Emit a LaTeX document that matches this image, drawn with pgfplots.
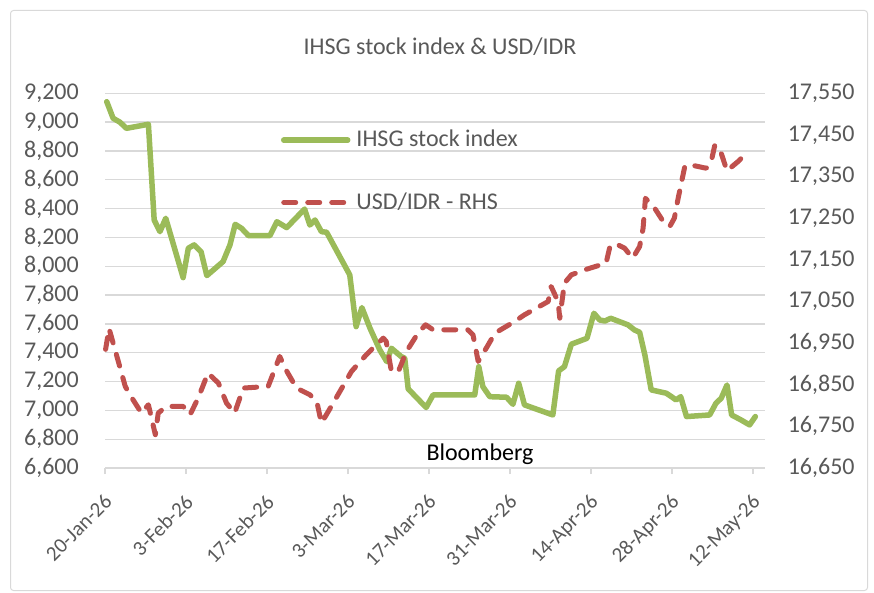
\documentclass[border=0pt]{standalone}
\usepackage{pgfplots}
\pgfplotsset{compat=1.18}
\usepackage{fontspec}
\setmainfont{Carlito}
\definecolor{ihsg}{HTML}{9BBB59}
\definecolor{idr}{HTML}{C0504D}
\definecolor{gridc}{HTML}{D9D9D9}
\definecolor{txt}{HTML}{595959}
\begin{document}
\fontsize{24}{29}\selectfont
\begin{tikzpicture}[x=1pt,y=1pt]
\path[use as bounding box] (0,0) rectangle (874,592);
\draw[gridc, line width=1pt, rounded corners=3pt] (10.5,1.5) rectangle (867.5,581.5);
\pgfplotsset{
  every axis/.append style={
    scale only axis, width=659.6pt, height=374.7pt, at={(105pt,124pt)}, anchor=south west,
    xmin=0, xmax=114, clip=false,
    scaled y ticks=false,
    /pgf/number format/assume math mode=true,
    /pgf/number format/fixed,
    /pgf/number format/precision=0,
    /pgf/number format/1000 sep={,},
    font=\fontsize{24}{29}\selectfont,
    yticklabel style={text=txt, font=\fontsize{24}{29}\selectfont},
  }
}
\begin{axis}[
  axis x line*=bottom, axis y line*=left,
  y axis line style={draw=none},
  x axis line style={draw=gridc, line width=1.3pt},
  ymin=6600, ymax=9200, ytick={6600,6800,7000,7200,7400,7600,7800,8000,8200,8400,8600,8800,9000,9200},
  ytick style={draw=none},
  xtick={0,14,28,42,56,70,84,98,112},
  xticklabels={20-Jan-26,3-Feb-26,17-Feb-26,3-Mar-26,17-Mar-26,31-Mar-26,14-Apr-26,28-Apr-26,12-May-26},
  xtick style={draw=gridc, line width=1.3pt},
  tick align=outside, major tick length=6pt,
  xticklabel style={text=txt, font=\fontsize{21}{25}\selectfont, xshift=-2pt, yshift=-19pt, rotate=45, anchor=north east, inner sep=0pt},
  yticklabel style={xshift=-12pt},
  ymajorgrids, grid style={draw=gridc, line width=1.3pt},
]
\addplot[ihsg, line width=5.5pt, line join=round, line cap=round] coordinates {
(0.3,9142) (1.4,9027) (2.6,8999) (3.7,8957) (7.5,8985) (8.5,8321) (9.5,8240) (10.5,8333)
(13.5,7921) (14.4,8125) (15.4,8148) (16.6,8101) (17.6,7935) (20.4,8032) (21.6,8148) (22.5,8291)
(23.6,8263) (24.8,8212) (28.5,8212) (29.7,8309) (31.4,8268) (34.5,8397) (35.4,8286) (36.3,8321)
(37.4,8240) (38.3,8236) (42.3,7940) (43.4,7581) (44.4,7713) (45.8,7570) (47.5,7419) (48.7,7338)
(49.5,7431) (51.2,7373) (51.8,7362) (52.4,7149) (55.5,7020) (56.7,7107) (63.9,7107) (64.6,7303)
(65.3,7165) (66.5,7095) (69.4,7091) (70.5,7042) (71.5,7188) (72.5,7038) (77.4,6968) (78.4,7274)
(79.4,7303) (80.6,7459) (83.3,7500) (84.5,7674) (85.5,7627) (86.4,7620) (87.4,7639) (90.4,7593)
(91.5,7558) (92.4,7542) (93.3,7385) (94.4,7142) (97.0,7119) (97.9,7095) (98.7,7072) (99.5,7095)
(100.5,6957) (104.5,6968) (105.6,7050) (106.5,7084) (107.5,7176) (108.3,6968) (109.9,6934)
(111.4,6899) (112.4,6957)
};
\end{axis}
\begin{axis}[
  axis x line=none, axis y line*=right,
  y axis line style={draw=none}, ytick style={draw=none},
  ymin=16650, ymax=17550,
  ytick={16650,16750,16850,16950,17050,17150,17250,17350,17450,17550},
  yticklabel style={xshift=15pt},
  legend image code/.code={\draw[#1] (0pt,0pt) -- (64pt,0pt);},
  legend style={at={(axis description cs:0.2665,0.9077)}, anchor=north west,
    draw=none, fill=none, inner sep=0pt, row sep=38pt,
    font=\fontsize{24}{29}\selectfont, text=txt,
    /tikz/every odd column/.append style={column sep=4pt}},
  legend cell align=left,
]
\addlegendimage{ihsg, line width=5.5pt, line cap=round}
\addlegendentry{IHSG stock index}
\addplot[idr, line width=5pt, dash pattern=on 12pt off 12pt, line cap=round, line join=round] coordinates {
(0.1,16935) (0.7,16985) (2.3,16906) (3.5,16846) (4.3,16826) (6.3,16782) (7.5,16802) (8.7,16730)
(9.2,16782) (10.6,16798) (13.5,16798) (14.7,16778) (16.1,16818) (17.8,16878) (19.6,16854) (21.0,16806)
(22.4,16782) (23.9,16842) (28.2,16846) (30.2,16918) (31.1,16890) (33.1,16842) (35.4,16826) (36.6,16810)
(37.4,16758) (38.6,16786) (42.6,16882) (44.9,16918) (46.3,16938) (48.1,16962) (48.6,16954) (49.5,16882)
(50.7,16882) (52.1,16930) (54.1,16974) (55.4,16994) (56.7,16982) (62.7,16982) (63.6,16970) (64.5,16906)
(65.9,16938) (67.4,16974) (70.8,17002) (72.5,17018) (76.6,17050) (77.1,17086) (78.3,17050) (78.6,17010)
(79.4,17094) (80.6,17114) (82.9,17126) (86.6,17142) (87.2,17178) (88.1,17190) (89.8,17178) (91.2,17154)
(92.4,17182) (93.0,17226) (93.4,17298) (95.0,17274) (96.3,17246) (97.6,17230) (98.4,17250) (99.0,17294)
(100.2,17374) (101.0,17380) (101.9,17376) (103.9,17370) (104.8,17388) (105.4,17426) (106.5,17406)
(107.5,17364) (109.4,17386) (111.1,17410)
};
\addlegendentry{USD/IDR - RHS}
\end{axis}
\node[black, anchor=base] at (480,132) {Bloomberg};
\node[txt, anchor=base] at (440,537) {IHSG stock index \& USD/IDR};
\end{tikzpicture}
\end{document}
